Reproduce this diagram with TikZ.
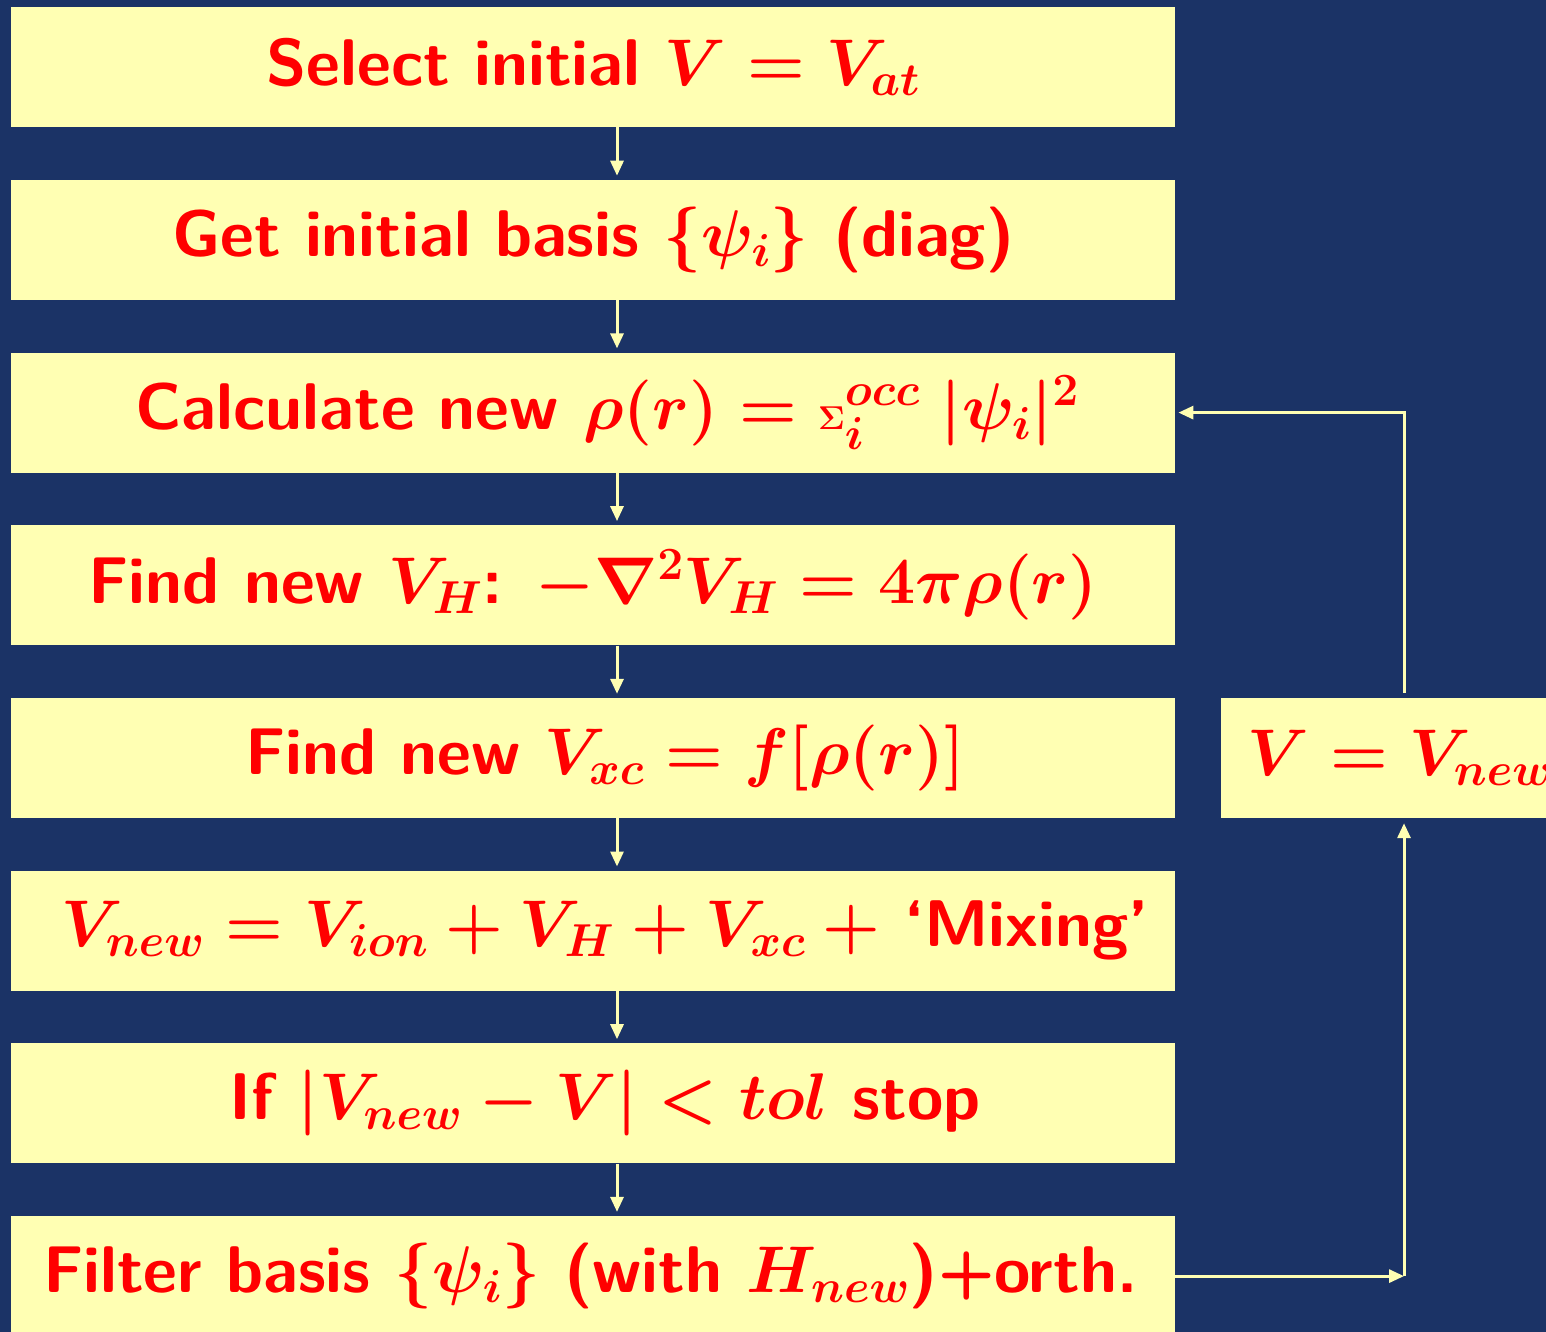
\RequirePackage{fix-cm}
\documentclass[tikz,border=0pt]{standalone}
\usetikzlibrary{arrows.meta}
\definecolor{bg}{RGB}{27,51,102}
\definecolor{boxy}{RGB}{255,255,179}
\tikzset{
  stepbox/.style={fill=boxy, minimum width=1164pt, minimum height=120pt, inner sep=0pt,
    anchor=north west, text=red, font=\fontsize{66}{72}\selectfont\sffamily\bfseries\boldmath},
  arr/.style={draw=boxy, line width=3pt, -{Triangle[length=15pt,width=13pt]}}
}
\begin{document}
\begin{tikzpicture}[x=1pt,y=-1pt]
\useasboundingbox (0,0) rectangle (1546,1332);
\fill[bg] (0,0) rectangle (1546,1332);
\clip (0,0) rectangle (1546,1332);
\coordinate (ax) at (617,0);
\coordinate (fx) at (1404,0);
\node[stepbox] (b1) at (11,7) {Select initial $V = V_{at}$};
\node[stepbox] (b2) at (11,179.7) {Get initial basis $\{\psi_i\}$ (diag)};
\node[stepbox] (b3) at (11,352.4) {\hspace*{28pt}Calculate new $\rho(r) = {\scriptscriptstyle\Sigma}_i^{occ}\mskip5mu|\psi_i|^2$};
\node[stepbox] (b4) at (11,525.1) {Find new $V_H$: $-\nabla^2 V_H = 4\pi\rho(r)$};
\node[stepbox] (b5) at (11,697.8) {\hspace*{24pt}Find new $V_{xc} = f[\rho(r)]$};
\node[stepbox] (b6) at (11,870.5) {\hspace*{24pt}$V_{new} = V_{ion} + V_H + V_{xc}\mskip4mu+$ `Mixing'};
\node[stepbox] (b7) at (11,1043.2) {\hspace*{24pt}If $|V_{new} - V| < tol$ stop};
\node[stepbox] (b8) at (11,1215.9) {Filter basis $\{\psi_i\}$ (with $H_{new}$)+orth.\hspace*{6pt}};
\node[stepbox, minimum width=358pt] (bv) at (1221,697.8) {$V = V_{new}$};
\foreach \a/\b in {b1/b2,b2/b3,b3/b4,b4/b5,b5/b6,b6/b7,b7/b8}
  \draw[arr, shorten >=4pt] (\a.south -| ax) -- (\b.north -| ax);
\draw[arr] (b8.east) -- (b8.east -| fx);
\draw[arr, shorten >=5pt] (b8.east -| fx) -- (bv.south -| fx);
\draw[arr, shorten <=5pt, shorten >=3pt] (bv.north -| fx) |- (b3.east);
\end{tikzpicture}
\end{document}
